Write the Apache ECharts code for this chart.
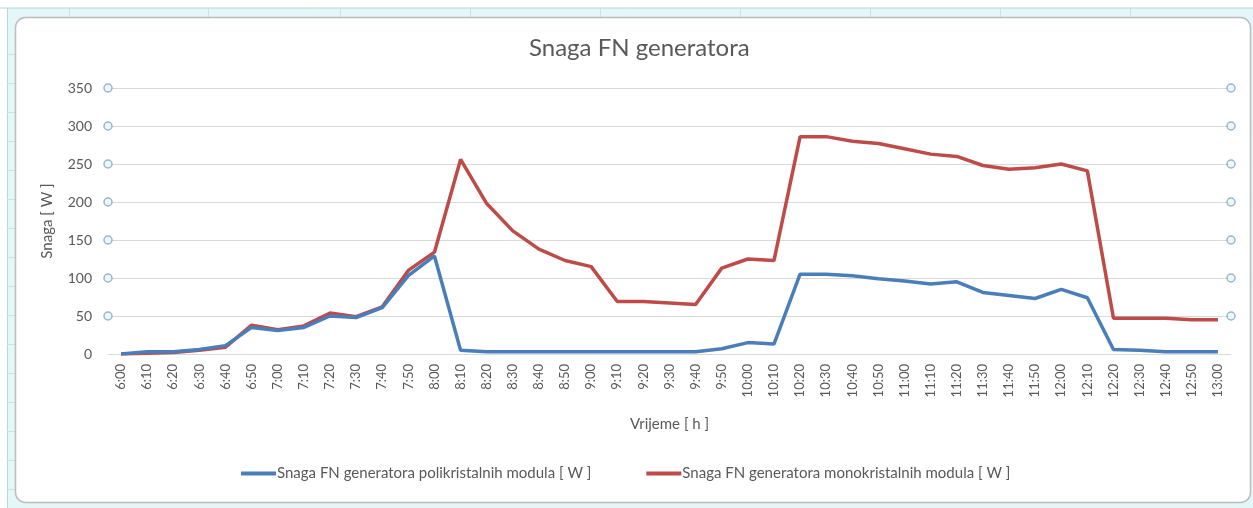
<!DOCTYPE html>
<html>
<head>
<meta charset="utf-8">
<script src="https://cdn.jsdelivr.net/npm/echarts@6/dist/echarts.min.js"></script>
<style>
html,body{margin:0;padding:0;background:#fff;}
#c{width:1253px;height:508px;}
</style>
</head>
<body>
<div id="c"></div>
<script>
var categories = ['6:00','6:10','6:20','6:30','6:40','6:50','7:00','7:10','7:20','7:30','7:40','7:50','8:00','8:10','8:20','8:30','8:40','8:50','9:00','9:10','9:20','9:30','9:40','9:50','10:00','10:10','10:20','10:30','10:40','10:50','11:00','11:10','11:20','11:30','11:40','11:50','12:00','12:10','12:20','12:30','12:40','12:50','13:00'];
var poli = [0,3,3,6,11,35,31,35,50,48,61,103,129,5,3,3,3,3,3,3,3,3,3,7,15,13,105,105,103,99,96,92,95,81,77,73,85,74,6,5,3,3,3];
var mono = [0,1,2,5,9,38,32,37,54,49,62,110,134,256,198,162,138,123,115,69,69,67,65,113,125,123,286,286,280,277,270,263,260,248,243,245,250,241,47,47,47,45,45];
var yTicks = [50,100,150,200,250,300,350];
var seriesNames = ['Snaga FN generatora polikristalnih modula [ W ]','Snaga FN generatora monokristalnih modula [ W ]'];

var handleData = [];
yTicks.forEach(function(v){ handleData.push([0,v]); handleData.push([1,v]); });

var font = 'Lato, "Open Sans", sans-serif';
var chart = echarts.init(document.getElementById('c'), null, {renderer:'canvas'});

var bgGraphics = [
  {type:'rect', shape:{x:0,y:0,width:1253,height:508}, style:{fill:'#e4f6f8'}, z:-10},
  {type:'rect', shape:{x:0,y:0,width:1253,height:8}, style:{fill:'#ffffff'}, z:-9},
  {type:'rect', shape:{x:0,y:0,width:7,height:508}, style:{fill:'#ffffff'}, z:-9},
  {type:'line', shape:{x1:0,y1:8,x2:1253,y2:8}, style:{stroke:'#b6d6da',lineWidth:1}, z:-8},
  {type:'line', shape:{x1:7.5,y1:8,x2:7.5,y2:508}, style:{stroke:'#b6d6da',lineWidth:1}, z:-8},
  {type:'rect', shape:{x:15.5,y:17.5,width:1235,height:485,r:10}, style:{fill:'#ffffff',stroke:'#bdbdbd',lineWidth:1.5}, z:-5}
];
[69,208,340,470,600,740,870,1000,1130].forEach(function(x){
  bgGraphics.push({type:'line', shape:{x1:x+0.5,y1:8,x2:x+0.5,y2:17}, style:{stroke:'#c8e2e6',lineWidth:1}, z:-8});
});
[54,83,112,141,170,199,228,257,286,315,344,373,402,431,460,489].forEach(function(y){
  bgGraphics.push({type:'line', shape:{x1:7,y1:y+0.5,x2:15,y2:y+0.5}, style:{stroke:'#c8e2e6',lineWidth:1}, z:-8});
});

chart.setOption({
  animation:false,
  backgroundColor:'transparent',
  graphic: bgGraphics,
  title:{
    text:'Snaga FN generatora',
    left:524, top:31,
    textStyle:{fontFamily:font, fontSize:24, fontWeight:'normal', color:'#595959'}
  },
  legend:{
    data:seriesNames,
    bottom:22,
    left:236,
    itemGap:55,
    itemWidth:35,
    itemHeight:4,
    textStyle:{fontFamily:font, fontSize:15, color:'#595959', padding:[0,0,0,-4]},
    icon:'rect'
  },
  grid:{left:108, right:22, top:88, bottom:154, containLabel:false},
  xAxis:[{
    type:'category',
    data:categories,
    boundaryGap:true,
    name:'Vrijeme [ h ]',
    nameLocation:'middle',
    nameGap:63,
    nameTextStyle:{fontFamily:font, fontSize:15, color:'#595959'},
    axisLine:{show:true, lineStyle:{color:'#d9d9d9', width:1}},
    axisTick:{show:false},
    axisLabel:{rotate:90, interval:0, fontFamily:font, fontSize:13, color:'#595959', margin:10}
  },{
    type:'value', min:0, max:1, show:false
  }],
  yAxis:{
    type:'value',
    min:0, max:350, interval:50,
    name:'Snaga [ W ]',
    nameLocation:'middle',
    nameGap:53,
    nameTextStyle:{fontFamily:font, fontSize:15, color:'#595959'},
    axisLine:{show:false},
    axisTick:{show:false},
    axisLabel:{fontFamily:font, fontSize:14, color:'#595959', margin:16},
    splitLine:{lineStyle:{color:'#d9d9d9', width:1}}
  },
  series:[
    {name:seriesNames[0], type:'line', data:poli, showSymbol:false, symbol:'none',
     lineStyle:{color:'#4a7ebb', width:3.5}, itemStyle:{color:'#4a7ebb'}, z:3},
    {name:seriesNames[1], type:'line', data:mono, showSymbol:false, symbol:'none',
     lineStyle:{color:'#be4b48', width:3.5}, itemStyle:{color:'#be4b48'}, z:2},
    {type:'scatter', xAxisIndex:1, data:handleData, symbol:'circle', symbolSize:8,
     itemStyle:{color:'#e8f6fa', borderColor:'#7ea6c4', borderWidth:1.5}, silent:true, z:5}
  ]
});
</script>
</body>
</html>
